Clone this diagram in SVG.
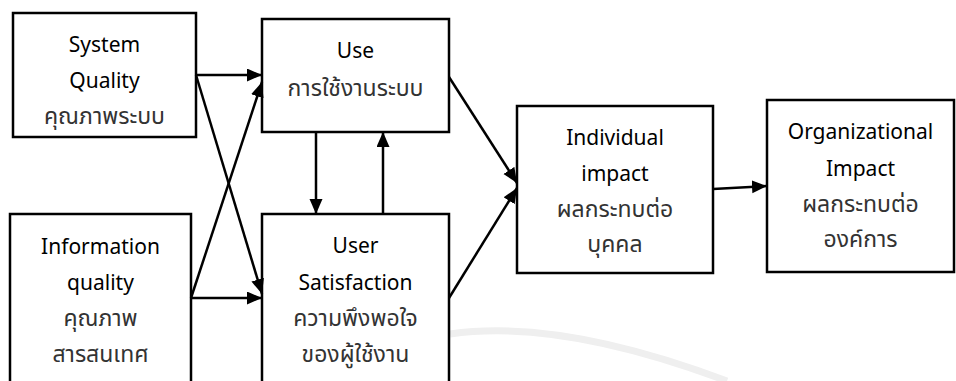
<svg xmlns="http://www.w3.org/2000/svg" width="956" height="381" viewBox="0 0 956 381">
<defs>
<marker id="ah" markerUnits="userSpaceOnUse" markerWidth="16" markerHeight="14" refX="15" refY="6.5" orient="auto">
<path d="M0,0 L15,6.5 L0,13 Z" fill="#000"/>
</marker>
<style>
.box{fill:#fff;stroke:#000;stroke-width:2.5}
.en{font-family:"Noto Sans","Open Sans","DejaVu Sans",sans-serif;font-size:21px;fill:#000;text-anchor:middle}
.th{font-family:"Noto Sans Thai","Noto Sans","DejaVu Sans",sans-serif;font-size:23px;fill:#333;text-anchor:middle}
.ln{fill:none;stroke:#000;stroke-width:2.5;marker-end:url(#ah)}
</style>
</defs>
<rect width="956" height="381" fill="#fff"/>
<path d="M450,334 Q560,318 727,381" fill="none" stroke="#efefef" stroke-width="7"/>
<g id="system-quality">
<rect class="box" x="13" y="13" width="183" height="124"/>
<text class="en" x="104.5" y="52">System</text>
<text class="en" x="104.5" y="88">Quality</text>
<text class="th" x="104.5" y="124">คุณภาพระบบ</text>
</g>
<g id="information-quality">
<rect class="box" x="10" y="214" width="181" height="180"/>
<text class="en" x="100.5" y="254">Information</text>
<text class="en" x="100.5" y="290">quality</text>
<text class="th" x="100.5" y="326">คุณภาพ</text>
<text class="th" x="100.5" y="362">สารสนเทศ</text>
</g>
<g id="use">
<rect class="box" x="262" y="19" width="187" height="113"/>
<text class="en" x="355.5" y="58">Use</text>
<text class="th" x="355.5" y="96">การใช้งานระบบ</text>
</g>
<g id="user-satisfaction">
<rect class="box" x="262" y="214" width="187" height="180"/>
<text class="en" x="355.5" y="253">User</text>
<text class="en" x="355.5" y="290">Satisfaction</text>
<text class="th" x="355.5" y="326">ความพึงพอใจ</text>
<text class="th" x="355.5" y="362">ของผู้ใช้งาน</text>
</g>
<g id="individual-impact">
<rect class="box" x="517" y="106" width="196" height="167"/>
<text class="en" x="615" y="145">Individual</text>
<text class="en" x="615" y="181">impact</text>
<text class="th" x="615" y="217">ผลกระทบต่อ</text>
<text class="th" x="615" y="252">บุคคล</text>
</g>
<g id="organizational-impact">
<rect class="box" x="767" y="100" width="187" height="172"/>
<text class="en" x="860.5" y="139">Organizational</text>
<text class="en" x="860.5" y="176">Impact</text>
<text class="th" x="860.5" y="212">ผลกระทบต่อ</text>
<text class="th" x="860.5" y="247">องค์การ</text>
</g>
<g id="connectors">
<line class="ln" x1="196" y1="75" x2="262" y2="75"/>
<line class="ln" x1="196" y1="75" x2="262" y2="294"/>
<line class="ln" x1="191" y1="298" x2="262" y2="298"/>
<line class="ln" x1="191" y1="298" x2="262" y2="82"/>
<line class="ln" x1="316" y1="132" x2="316" y2="214"/>
<line class="ln" x1="383" y1="214" x2="383" y2="132"/>
<line class="ln" x1="449" y1="77" x2="517" y2="183"/>
<line class="ln" x1="449" y1="298" x2="517" y2="188"/>
<line class="ln" x1="713" y1="189" x2="767" y2="186"/>
</g>
</svg>
